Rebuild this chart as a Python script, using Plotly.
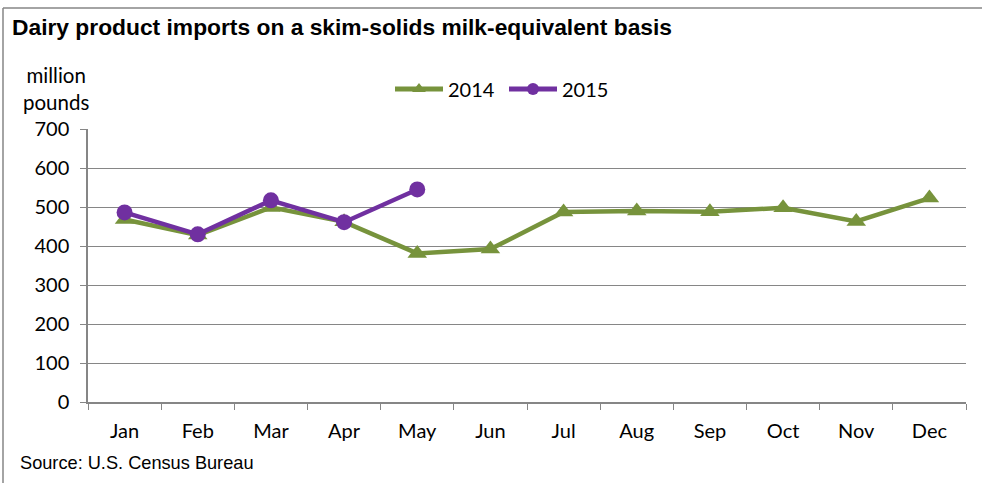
import plotly.graph_objects as go

months = ["Jan", "Feb", "Mar", "Apr", "May", "Jun", "Jul", "Aug", "Sep", "Oct", "Nov", "Dec"]
imports_2014 = [468, 428, 499, 462, 381, 392, 487, 490, 488, 498, 463, 523]
imports_2015 = [486, 430, 517, 461, 545]
y_ticks = [0, 100, 200, 300, 400, 500, 600, 700]

W, H = 982, 483
L, R, T, B = 88, 966, 129, 402

def px(x):
    return (x - L) / (R - L)

def py(y):
    return (B - y) / (B - T)

GREEN = "#77933C"
PURPLE = "#7030A0"
GRID = "#868686"
BODY_FONT = "Lato, Carlito, Calibri, sans-serif"
ARIAL = "Liberation Sans, Arial, sans-serif"

fig = go.Figure()
fig.add_trace(go.Scatter(
    x=months, y=imports_2014, name="2014", mode="lines+markers",
    line=dict(color=GREEN, width=4.5),
    marker=dict(symbol="triangle-up", size=17, color=GREEN),
))
fig.add_trace(go.Scatter(
    x=months[:len(imports_2015)], y=imports_2015, name="2015", mode="lines+markers",
    line=dict(color=PURPLE, width=4.5),
    marker=dict(symbol="circle", size=16, color=PURPLE),
))

fig.update_layout(
    width=W, height=H,
    margin=dict(l=L, r=W - R, t=T, b=H - B, pad=0),
    paper_bgcolor="white", plot_bgcolor="white",
    font=dict(family=BODY_FONT, size=20, color="black"),
    showlegend=True,
    legend=dict(orientation="h", x=px(390), y=py(89), xanchor="left", yanchor="middle",
                font=dict(size=20), itemwidth=48, itemsizing="constant",
                entrywidth=51, entrywidthmode="pixels", tracegroupgap=0,
                bgcolor="rgba(0,0,0,0)"),
    xaxis=dict(type="category", categoryorder="array", categoryarray=months,
               tickson="boundaries", ticks="outside", ticklen=6, tickcolor=GRID,
               showline=True, linecolor=GRID, linewidth=1.5, ticklabelstandoff=10,
               showgrid=False, tickfont=dict(size=20), range=[-0.5, 11.5],
               fixedrange=True),
    yaxis=dict(range=[0, 700], tickvals=y_ticks, ticks="outside", ticklen=6,
               tickcolor=GRID, showline=True, linecolor=GRID, linewidth=1.5,
               ticklabelstandoff=7,
               showgrid=True, gridcolor=GRID, gridwidth=1.3, zeroline=False,
               tickfont=dict(size=20), fixedrange=True),
    annotations=[
        dict(text="<b>Dairy product imports on a skim-solids milk-equivalent basis</b>",
             xref="paper", yref="paper", x=px(10), y=py(27), xanchor="left", yanchor="middle",
             showarrow=False, font=dict(family=ARIAL, size=22.8)),
        dict(text="million<br>pounds", xref="paper", yref="paper", x=px(56), y=py(88),
             xanchor="center", yanchor="middle", showarrow=False, align="center",
             font=dict(size=20.5)),
        dict(text="Source: U.S. Census Bureau", xref="paper", yref="paper",
             x=px(18), y=py(463), xanchor="left", yanchor="middle", showarrow=False,
             font=dict(family=ARIAL, size=18.2)),
    ],
    shapes=[
        dict(type="line", xref="paper", yref="paper", x0=px(3), x1=px(3), y0=py(8), y1=py(490),
             line=dict(color=GRID, width=1.5)),
        dict(type="line", xref="paper", yref="paper", x0=px(3), x1=px(990), y0=py(8), y1=py(8),
             line=dict(color=GRID, width=1.5)),
    ],
)

fig.write_html("out.html", config={"displayModeBar": False},
               post_script="document.body.style.margin='0';")
